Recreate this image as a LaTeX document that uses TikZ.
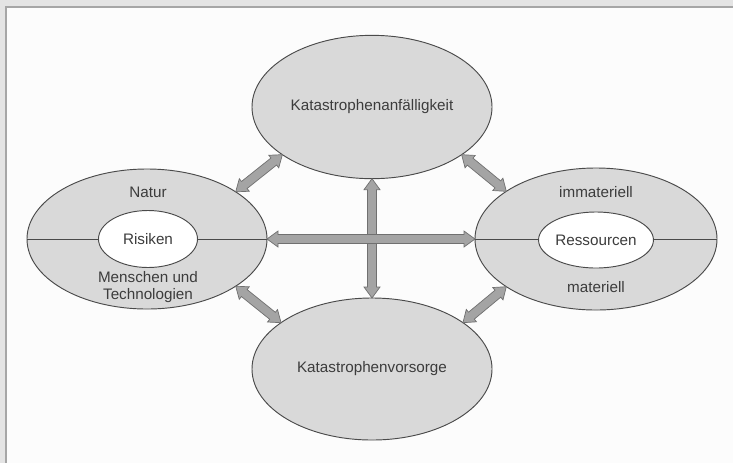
\documentclass[tikz,border=0pt]{standalone}
\usepackage{fontspec}
\setmainfont{Liberation Sans}
\usetikzlibrary{shapes.geometric,calc}

\definecolor{bubblefill}{HTML}{D9D9D9}
\definecolor{inkgray}{HTML}{4A4A4A}
\definecolor{textgray}{HTML}{3C3C3C}
\definecolor{arrowfill}{HTML}{A4A4A4}
\definecolor{arrowline}{HTML}{707070}
\definecolor{framebg}{HTML}{E4E4E4}
\definecolor{frameline}{HTML}{A6A6A6}

% fat double arrow between two named points
\newcommand{\fatarrow}[2]{%
  \coordinate (fa1) at ($(#1)!0.33cm!(#2)$);
  \coordinate (fa2) at ($(#2)!0.33cm!(#1)$);
  \draw[fat] (#1) -- ($(fa1)!0.24cm!90:(#2)$) -- ($(fa1)!0.135cm!90:(#2)$)
    -- ($(fa2)!0.135cm!-90:(#1)$) -- ($(fa2)!0.24cm!-90:(#1)$) -- (#2)
    -- ($(fa2)!0.24cm!90:(#1)$) -- ($(fa2)!0.135cm!90:(#1)$)
    -- ($(fa1)!0.135cm!-90:(#2)$) -- ($(fa1)!0.24cm!-90:(#2)$) -- cycle;
}

\begin{document}
\begin{tikzpicture}[
    x=0.03cm, y=-0.03cm,
    bubble/.style={ellipse,draw=inkgray,fill=bubblefill,line width=0.8pt,
        inner sep=0pt,outer sep=0pt,text=textgray},
    core/.style={ellipse,draw=inkgray,fill=white,line width=0.8pt,
        inner sep=0pt,outer sep=0pt,text=textgray,
        minimum width=2.97cm,minimum height=1.71cm},
    txt/.style={text=textgray,align=center,inner sep=0pt},
    fat/.style={draw=arrowline,fill=arrowfill,line width=0.6pt,line join=miter},
    every node/.style={font=\fontsize{13}{14.6}\selectfont}
]
    \useasboundingbox (0,0) rectangle (733,463);

    % Frame
    \fill[framebg] (0,0) rectangle (733,463);
    \fill[white!98!gray] (6,7) rectangle (733,463);
    \draw[frameline,line width=1pt] (6,463) -- (6,7) -- (733,7);

    % Bubbles
    \node[bubble,minimum width=7.2cm,minimum height=4.3cm] (anf) at (372,107) {Katastrophenanfälligkeit};
    \node[bubble,minimum width=7.2cm,minimum height=4.26cm] (vor) at (372,369) {Katastrophenvorsorge};
    \node[bubble,minimum width=7.2cm,minimum height=4.2cm] (risk) at (147,239) {};
    \node[bubble,minimum width=7.26cm,minimum height=4.26cm] (res) at (596,239) {};

    % Inner parts
    \draw[inkgray,line width=0.8pt] (risk.west) -- (risk.east);
    \draw[inkgray,line width=0.8pt] (res.west) -- (res.east);
    \node[core] (riskin) at (148,239) {Risiken};
    \node[core,minimum width=3cm,minimum height=1.68cm] (resin) at (596,240) {Ressourcen};
    \node[txt] (natur) at (148,192) {Natur};
    \node[txt] (mensch) at (148,287) {Menschen und\\Technologien};
    \node[txt] (immat) at (596,192) {immateriell};
    \node[txt] (mat) at (596,287) {materiell};

    % Arrows
    \fatarrow{risk.28}{anf.208}
    \fatarrow{anf.-28}{res.152}
    \fatarrow{risk.-28}{vor.153}
    \fatarrow{res.208}{vor.27}
    \fatarrow{anf.south}{vor.north}
    \fatarrow{risk.east}{res.west}
\end{tikzpicture}
\end{document}
